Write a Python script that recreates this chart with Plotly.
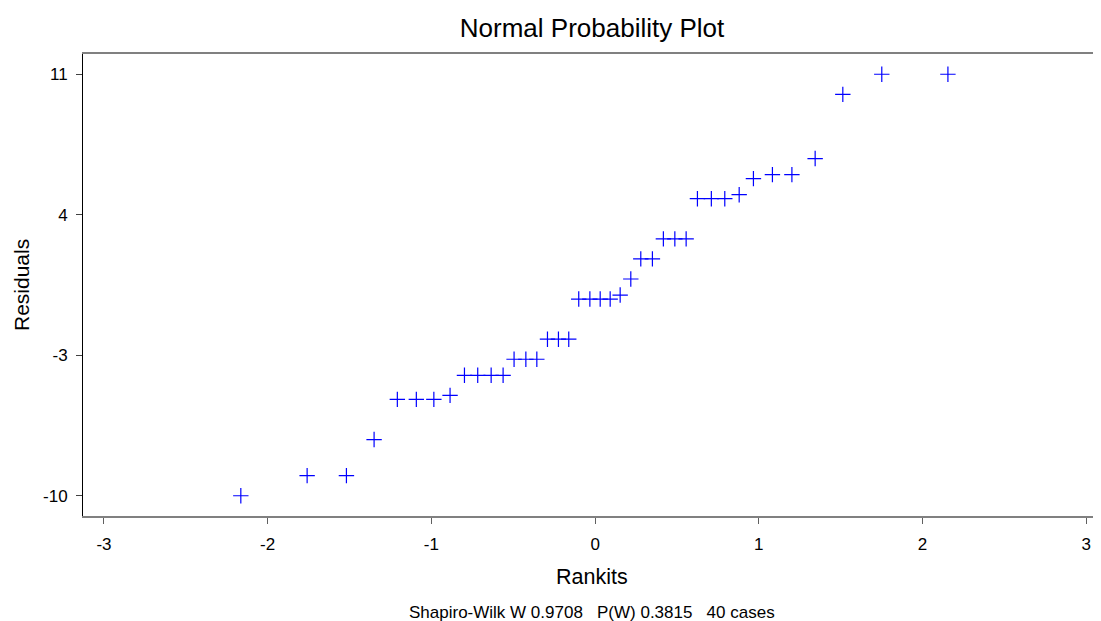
import plotly.graph_objects as go

rankits = [-2.164, -1.759, -1.519, -1.350, -1.208, -1.092, -0.985, -0.886,
           -0.798, -0.717, -0.635, -0.562, -0.495, -0.423, -0.356, -0.291,
           -0.224, -0.161, -0.100, -0.032, 0.031, 0.092, 0.153, 0.218,
           0.279, 0.350, 0.417, 0.487, 0.556, 0.625, 0.710, 0.792,
           0.880, 0.967, 1.083, 1.202, 1.344, 1.513, 1.751, 2.155]
residuals = [-10.0, -9.0, -9.0, -7.2, -5.2, -5.2, -5.2, -5.0,
             -4.0, -4.0, -4.0, -4.0, -3.2, -3.2, -3.2, -2.2,
             -2.2, -2.2, -0.2, -0.2, -0.2, -0.2, 0.0, 0.8,
             1.8, 1.8, 2.8, 2.8, 2.8, 4.8, 4.8, 4.8,
             5.0, 5.8, 6.0, 6.0, 6.8, 10.0, 11.0, 11.0]

x_ticks = [-3, -2, -1, 0, 1, 2, 3]
y_ticks = [-10, -3, 4, 11]

title_text = "Normal Probability Plot"
x_title = "Rankits"
y_title = "Residuals"
footnote = "Shapiro-Wilk W 0.9708&nbsp;&nbsp;&nbsp;P(W) 0.3815&nbsp;&nbsp;&nbsp;40 cases"

FONT = "Liberation Sans, Arial, sans-serif"

# page body has an 8px default margin, so the figure is offset by (8, 8)
fig = go.Figure()
fig.add_trace(go.Scatter(
    x=rankits, y=residuals, mode="markers",
    marker=dict(symbol="cross-thin", size=11,
                line=dict(color="#0000FF", width=1.2), color="#0000FF"),
    hoverinfo="x+y", showlegend=False,
))

fig.update_layout(
    width=1093, height=613,
    margin=dict(l=75, r=0, t=46, b=105),
    paper_bgcolor="white", plot_bgcolor="white",
    font=dict(family=FONT, color="black"),
    title=dict(text=title_text, x=0.5, xanchor="center", xref="paper",
               y=1 - 20 / 613, yanchor="middle", yref="container",
               font=dict(size=26, family=FONT, color="black")),
    xaxis=dict(range=[-3.128, 3.09], tickvals=x_ticks,
               ticktext=[str(v) for v in x_ticks],
               showgrid=False, zeroline=False,
               showline=True, linecolor="#808080", linewidth=1.5, mirror=True,
               ticks="outside", ticklen=6, tickcolor="#606060", tickwidth=1,
               tickfont=dict(size=17, family=FONT, color="black"),
               ticklabelstandoff=6),
    yaxis=dict(range=[-11.01, 12.01], tickvals=y_ticks,
               ticktext=[str(v) for v in y_ticks],
               showgrid=False, zeroline=False,
               showline=True, linecolor="black", linewidth=1, mirror=False,
               ticks="outside", ticklen=6, tickcolor="#404040", tickwidth=1,
               tickfont=dict(size=17, family=FONT, color="black"),
               ticklabelstandoff=5),
    annotations=[
        dict(text=x_title, xref="paper", yref="paper", x=0.5, y=0,
             xanchor="center", yanchor="middle", yshift=-61, showarrow=False,
             font=dict(size=21.5, family=FONT, color="black")),
        dict(text=y_title, xref="paper", yref="paper", x=0, y=0.5,
             xanchor="center", yanchor="middle", xshift=-62, textangle=-90,
             showarrow=False, font=dict(size=21, family=FONT, color="black")),
        dict(text=footnote, xref="paper", yref="paper", x=0.5, y=0,
             xanchor="center", yanchor="middle", yshift=-96, showarrow=False,
             font=dict(size=17, family=FONT, color="black")),
    ],
)

fig.write_html("out.html")
